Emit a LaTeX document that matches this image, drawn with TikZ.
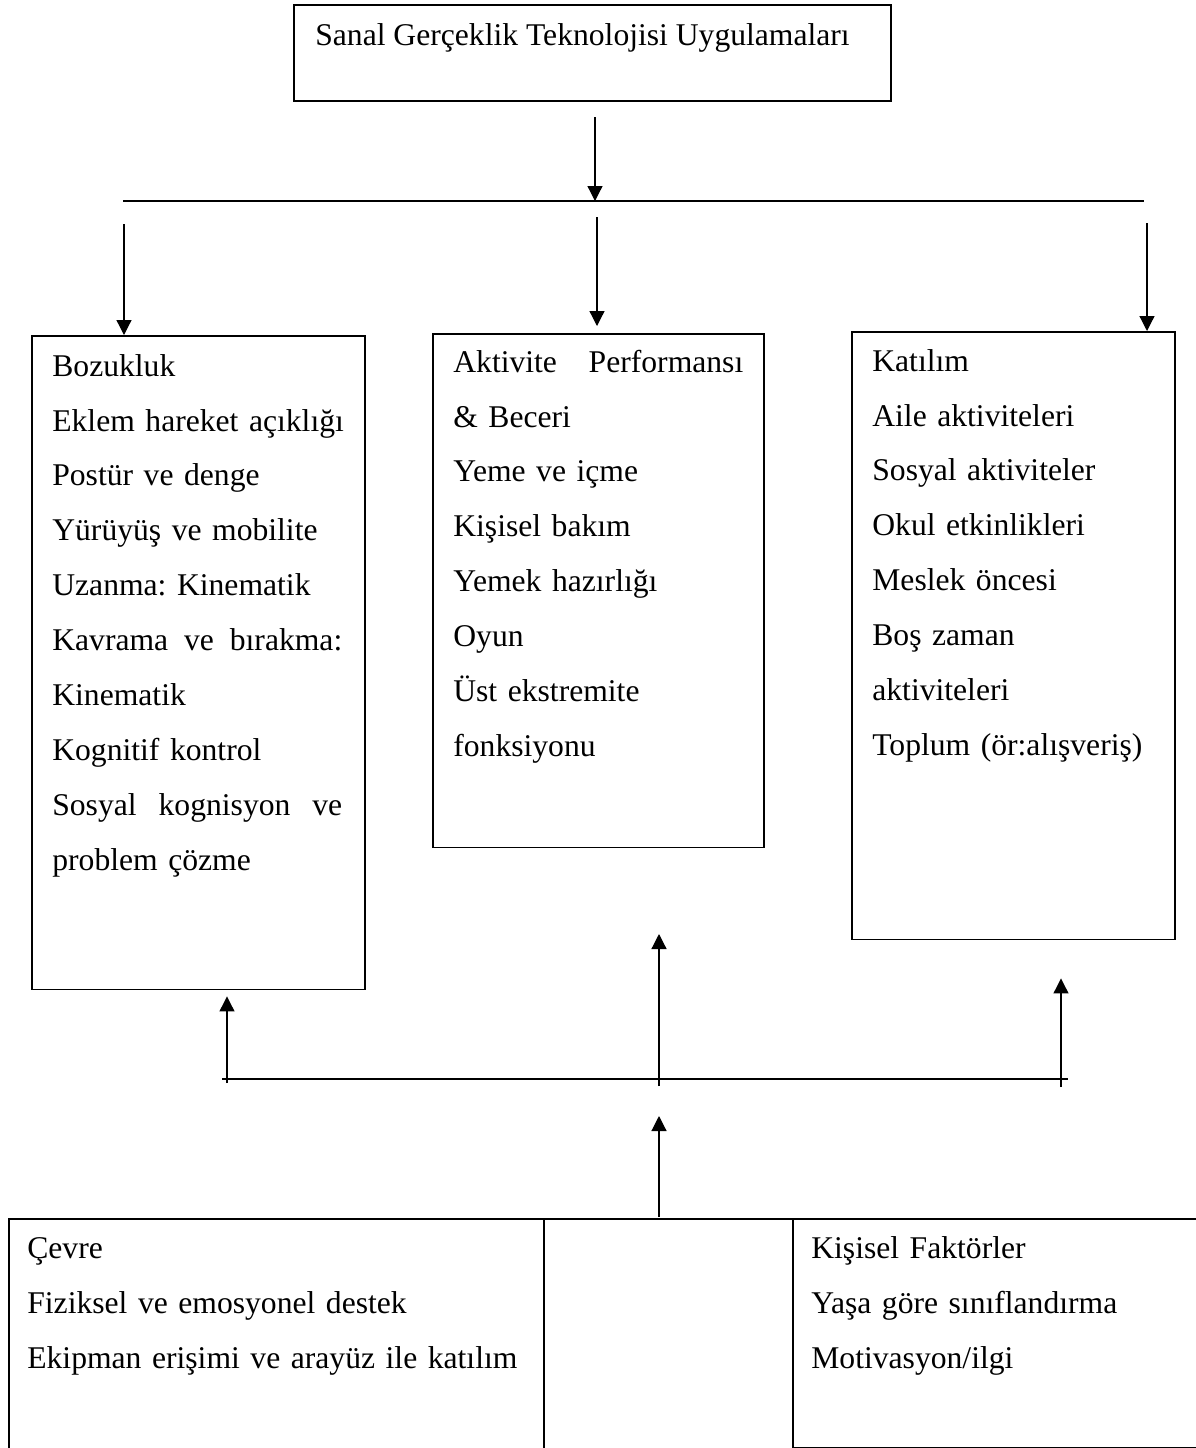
\documentclass[tikz,border=0pt]{standalone}
\usepackage{fontspec}
\setmainfont{Liberation Serif}
\usetikzlibrary{arrows.meta}
\newcommand{\yay}[1]{\makebox[5.8cm][l]{#1}}
\tikzset{
  kutu/.style={draw, line width=0.9pt, anchor=north west, inner sep=0pt},
  yazi/.style={anchor=base west, inner sep=0pt, align=left, text width=8cm, font=\fontsize{18}{31.3}\selectfont\frenchspacing},
  ok/.style={line width=0.7pt, -{Triangle[length=0.3cm,width=0.3cm]}},
  cizgi/.style={line width=0.7pt}
}
\begin{document}
\begin{tikzpicture}[x=0.02cm,y=-0.02cm]
\useasboundingbox (0,0) rectangle (1196,1448);
\node[kutu, anchor=center, minimum width=11.94cm, minimum height=1.92cm, text height=0.45cm, text depth=0.77cm, font=\fontsize{18}{31.3}\selectfont] (sgt) at (592.5,53) {\hspace*{-0.4cm}Sanal Gerçeklik Teknolojisi Uygulamaları};
\node[kutu, minimum width=6.66cm, minimum height=13.08cm] (bozukluk) at (31,335) {};
\node[kutu, minimum width=6.62cm, minimum height=10.28cm] (aktivite) at (432,333) {};
\node[kutu, minimum width=6.46cm, minimum height=12.16cm] (katilim) at (851,331) {};
\node[kutu, minimum width=10.7cm, minimum height=4.8cm] (cevre) at (8,1218) {};
\node[kutu, minimum width=4.98cm, minimum height=4.8cm] (orta) at (543,1218) {};
\node[kutu, minimum width=8.14cm, minimum height=4.58cm] (kisisel) at (792,1218) {};
\node[yazi] (bozukluk-yazi) at (52,376) {Bozukluk\\
Eklem hareket açıklığı\\
Postür ve denge\\
Yürüyüş ve mobilite\\
Uzanma: Kinematik\\
\yay{Kavrama\hfill ve\hfill bırakma:}\\
Kinematik\\
Kognitif kontrol\\
\yay{Sosyal\hfill kognisyon\hfill ve}\\
problem çözme};
\node[yazi] (aktivite-yazi) at (453,372) {\yay{Aktivite\hfill Performansı}\\
\& Beceri\\
Yeme ve içme\\
Kişisel bakım\\
Yemek hazırlığı\\
Oyun\\
Üst ekstremite\\
fonksiyonu};
\node[yazi] (katilim-yazi) at (872,371) {Katılım\\
Aile aktiviteleri\\
Sosyal aktiviteler\\
Okul etkinlikleri\\
Meslek öncesi\\
Boş zaman\\
aktiviteleri\\
Toplum (ör:alışveriş)};
\node[yazi, text width=10.2cm] (cevre-yazi) at (27,1258) {Çevre\\
Fiziksel ve emosyonel destek\\
Ekipman erişimi ve arayüz ile katılım};
\node[yazi] (kisisel-yazi) at (811,1258) {Kişisel Faktörler\\
Yaşa göre sınıflandırma\\
Motivasyon/ilgi};
\coordinate (ustL) at (123,201);
\coordinate (ustR) at (1144,201);
\coordinate (ustM) at (595,201);
\coordinate (sgtok) at (595,117);
\coordinate (okL) at (124,224);
\coordinate (okM) at (597,217);
\coordinate (okR) at (1147,223);
\coordinate (altL) at (222,1079);
\coordinate (altR) at (1068,1079);
\coordinate (altokL) at (227,1083);
\coordinate (altokM) at (659,1086);
\coordinate (altokR) at (1061,1087);
\coordinate (ortaok) at (659,1217);
\draw[cizgi] (ustL) -- (ustR);
\draw[cizgi] (altL) -- (altR);
\draw[ok] (sgtok) -- (ustM);
\draw[ok] (okL) -- (okL |- bozukluk.north);
\draw[ok, shorten >=0.14cm] (okM) -- (okM |- aktivite.north);
\draw[ok] (okR) -- (okR |- katilim.north);
\draw[ok, shorten >=0.12cm] (altokL) -- (altokL |- bozukluk.south);
\draw[ok] (altokM) -- (659,934);
\draw[ok, shorten >=0.76cm] (altokR) -- (altokR |- katilim.south);
\draw[ok] (ortaok) -- (659,1116);
\end{tikzpicture}
\end{document}
